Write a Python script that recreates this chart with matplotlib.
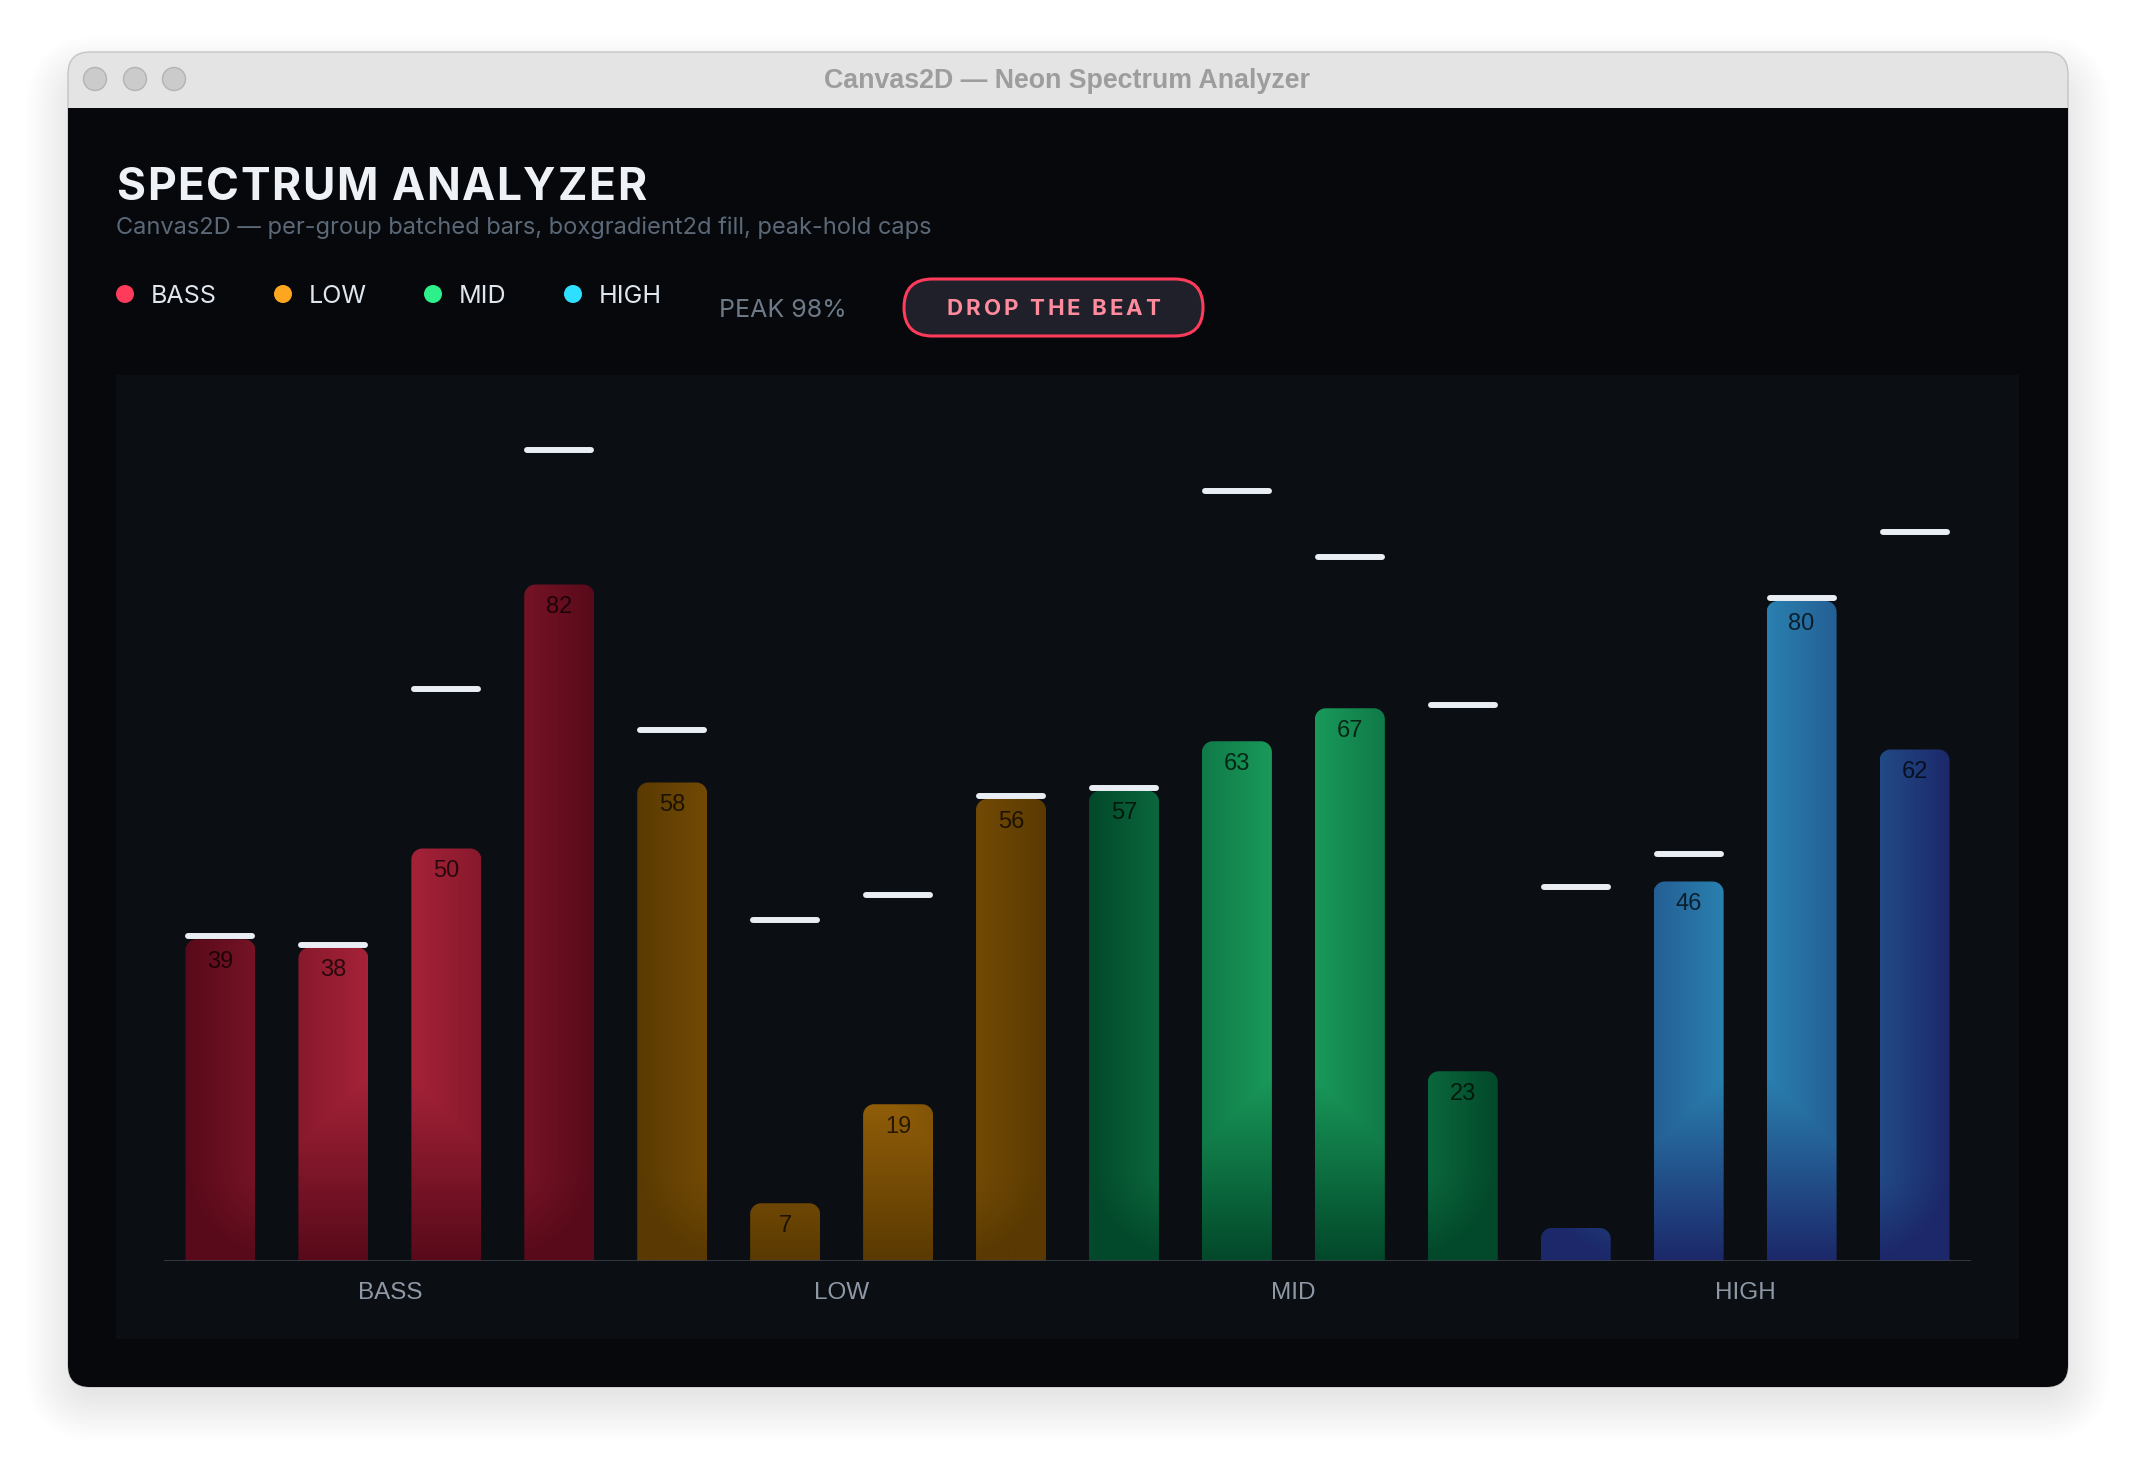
import numpy as np
import matplotlib
matplotlib.use("Agg")
import matplotlib.pyplot as plt
from matplotlib.patches import FancyBboxPatch, Rectangle, Circle, PathPatch
from matplotlib.path import Path
from matplotlib.font_manager import FontProperties, findfont, get_font

# ---- data -------------------------------------------------------------
groups = ["BASS", "LOW", "MID", "HIGH"]
bars_per_group = 4
values = [39, 38, 50, 82, 58, 7, 19, 56, 57, 63, 67, 23, 4, 46, 80, 62]
peaks = [39, 38, 69, 98, 64, 41, 44, 56, 57, 93, 85, 67, 45, 49, 80, 88]
legend_colors = ["#ff3b5c", "#ffa620", "#2ef08a", "#2ee0ff"]
grad_inner = ["#a82339", "#9c650a", "#1a9c5c", "#2a84b2"]
grad_outer = ["#580a1a", "#5a3a02", "#02482a", "#1c286a"]
peak_text = "PEAK 98%"
title = "SPECTRUM ANALYZER"
subtitle = "Canvas2D \u2014 per-group batched bars, boxgradient2d fill, peak-hold caps"
window_title = "Canvas2D \u2014 Neon Spectrum Analyzer"
button_text = "DROP THE BEAT"

# ---- layout (pixels) --------------------------------------------------
W, H = 2136, 1472
DPI = 100
CH_LEFT, CH_RIGHT = 164, 1971
BASELINE, TOP100 = 1261, 436
n_bars = len(values)
sx = (CH_RIGHT - CH_LEFT) / n_bars        # px per slot
sy = (BASELINE - TOP100) / 100.0          # px per unit
bar_w = 70 / sx
INTER = ["Inter", "DejaVu Sans"]
HELV = ["Liberation Sans", "DejaVu Sans"]


def hex_rgb(c):
    c = c.lstrip("#")
    return np.array([int(c[k:k + 2], 16) / 255 for k in (0, 2, 4)])


def spaced_text(ax, x, y, s, spacing, fp, ha="left", **kw):
    """Draw text letter by letter with extra tracking (pixel coords)."""
    font = get_font(findfont(fp))
    font.set_size(fp.get_size_in_points(), DPI)
    adv = [font.load_char(ord(ch)).linearHoriAdvance / 65536 for ch in s]
    total = sum(adv) + spacing * (len(s) - 1)
    x0 = x - total / 2 if ha == "center" else x
    for ch, a in zip(s, adv):
        ax.text(x0, y, ch, fontproperties=fp, ha="left", **kw)
        x0 += a + spacing


def rounded_top(x0, x1, h, rx, ry):
    ry = min(ry, h)
    k = 0.5523
    verts = [(x0, 0), (x0, h - ry),
             (x0, h - ry + k * ry), (x0 + rx - k * rx, h), (x0 + rx, h),
             (x1 - rx, h),
             (x1 - rx + k * rx, h), (x1, h - ry + k * ry), (x1, h - ry),
             (x1, 0), (x0, 0)]
    codes = [Path.MOVETO, Path.LINETO,
             Path.CURVE4, Path.CURVE4, Path.CURVE4,
             Path.LINETO,
             Path.CURVE4, Path.CURVE4, Path.CURVE4,
             Path.LINETO, Path.CLOSEPOLY]
    return Path(verts, codes)


def box_gradient(i, v):
    # nanovg-like box gradient per group, evaluated in pixel space
    g = i // bars_per_group
    xs = np.linspace(i - bar_w / 2, i + bar_w / 2, 90)
    ys = np.linspace(0, v, max(int(v * sy), 2))
    X, Y = np.meshgrid(xs, ys)
    px = (X + 0.5) * sx
    py = Y * sy
    cx = (g * bars_per_group + 2) * sx
    hw, cy, hh, f = 110.0, 528.5, 432.5, 190.0
    qx = np.abs(px - cx) - hw
    qy = np.abs(py - cy) - hh
    d = np.hypot(np.maximum(qx, 0), np.maximum(qy, 0)) + np.minimum(np.maximum(qx, qy), 0)
    t = np.clip((d + f / 2) / f, 0, 1)[..., None]
    rgb = hex_rgb(grad_inner[g]) * (1 - t) + hex_rgb(grad_outer[g]) * t
    return rgb


fig = plt.figure(figsize=(W / DPI, H / DPI), dpi=DPI)
fig.patch.set_facecolor("white")

# ---- window chrome (pixel axes) ---------------------------------------
bg = fig.add_axes([0, 0, 1, 1])
bg.set_xlim(0, W)
bg.set_ylim(H, 0)
bg.set_axis_off()

wx0, wy0, wx1, wy1 = 68, 52, 2068, 1387
for k in range(26):
    pad = k * 2.0
    bg.add_patch(FancyBboxPatch((wx0 - pad + 8, wy0 - pad + 34), wx1 - wx0 + 2 * pad - 16,
                                wy1 - wy0 + 2 * pad - 30,
                                boxstyle=f"round,pad=0,rounding_size={22 + pad}",
                                fc="black", ec="none", alpha=0.0045, zorder=0))
bg.add_patch(FancyBboxPatch((wx0, wy0), wx1 - wx0, wy1 - wy0,
                            boxstyle="round,pad=0,rounding_size=22",
                            fc="#e4e4e4", ec="#c4c4c4", lw=1, zorder=1))
bg.add_patch(FancyBboxPatch((wx0, 108), wx1 - wx0, wy1 - 108,
                            boxstyle="round,pad=0,rounding_size=22",
                            fc="#06080c", ec="none", zorder=2))
bg.add_patch(Rectangle((wx0, 108), wx1 - wx0, 40, fc="#06080c", ec="none", zorder=2))
for cx in (95, 135, 174):
    bg.add_patch(Circle((cx, 79), 11.5, fc="#cbcbcb", ec="#b3b3b3", lw=1, zorder=3))
bg.text(1067, 81, window_title, ha="center", va="center", fontsize=19.3,
        fontweight="bold", color="#9d9d9d", family=HELV, zorder=3)

# panel
bg.add_patch(Rectangle((116, 375), 2019 - 116, 1339 - 375, fc="#0b0e13", ec="none", zorder=3))

# header
fp_title = FontProperties(family=INTER, weight="bold", size=32)
spaced_text(bg, 116, 200, title, 1.6, fp_title, color="#eef2f7", zorder=4)
bg.text(116, 234, subtitle, fontsize=17, color="#5b6877", family=INTER, zorder=4)

legend_x = [125, 283, 433, 573]
for name, col, lx in zip(groups, legend_colors, legend_x):
    bg.add_patch(Circle((lx, 294), 9, fc=col, ec="none", zorder=4))
    bg.text(lx + 26, 303, name, fontsize=18, color="#dfe6ee", family=INTER, zorder=4)
bg.text(719, 317, peak_text, fontsize=18, color="#6e7a88", family=INTER, zorder=4)

bg.add_patch(FancyBboxPatch((904, 279), 299, 57, boxstyle="round,pad=0,rounding_size=28.5",
                            fc="#1f2029", ec="#ff3b5c", lw=2.2, zorder=4))
fp_btn = FontProperties(family=INTER, weight="bold", size=16)
spaced_text(bg, 1053.5, 315, button_text, 3.0, fp_btn, ha="center", color="#ff8c9e", zorder=5)

# ---- chart axes (data coords) -----------------------------------------
ax = fig.add_axes([CH_LEFT / W, (H - BASELINE) / H, (CH_RIGHT - CH_LEFT) / W,
                   (BASELINE - TOP100) / H])
ax.set_xlim(-0.5, n_bars - 0.5)
ax.set_ylim(0, 100)
ax.set_axis_off()
ax.patch.set_visible(False)

rx, ry = 11 / sx, 11 / sy
for i, v in enumerate(values):
    path = rounded_top(i - bar_w / 2, i + bar_w / 2, v, rx, ry)
    clip = PathPatch(path, transform=ax.transData, fc="none", ec="none")
    im = ax.imshow(box_gradient(i, v), extent=[i - bar_w / 2, i + bar_w / 2, 0, v],
                   origin="lower", aspect="auto", interpolation="bilinear", zorder=2)
    im.set_clip_path(clip)
    if v >= 5:
        ax.text(i, v - 28.5 / sy, str(v), ha="center", va="baseline", fontsize=17,
                color="black", alpha=0.72, family=HELV, zorder=4)

# peak-hold caps
cap_r = 3 / sx
idx = np.arange(n_bars)
ax.hlines([p + 3 / sy for p in peaks], idx - bar_w / 2 + cap_r, idx + bar_w / 2 - cap_r,
          colors="#e9eef4", linewidth=4.3, capstyle="round", zorder=5, clip_on=False)

ax.axhline(0, color="#3a414c", linewidth=1.9, zorder=3)

for g, name in enumerate(groups):
    ax.text(g * bars_per_group + 1.5, -38 / sy, name, ha="center", va="baseline",
            fontsize=17.5, color="#8f99a6", family=HELV, clip_on=False)

fig.savefig("out.png", dpi=DPI, facecolor=fig.get_facecolor())
